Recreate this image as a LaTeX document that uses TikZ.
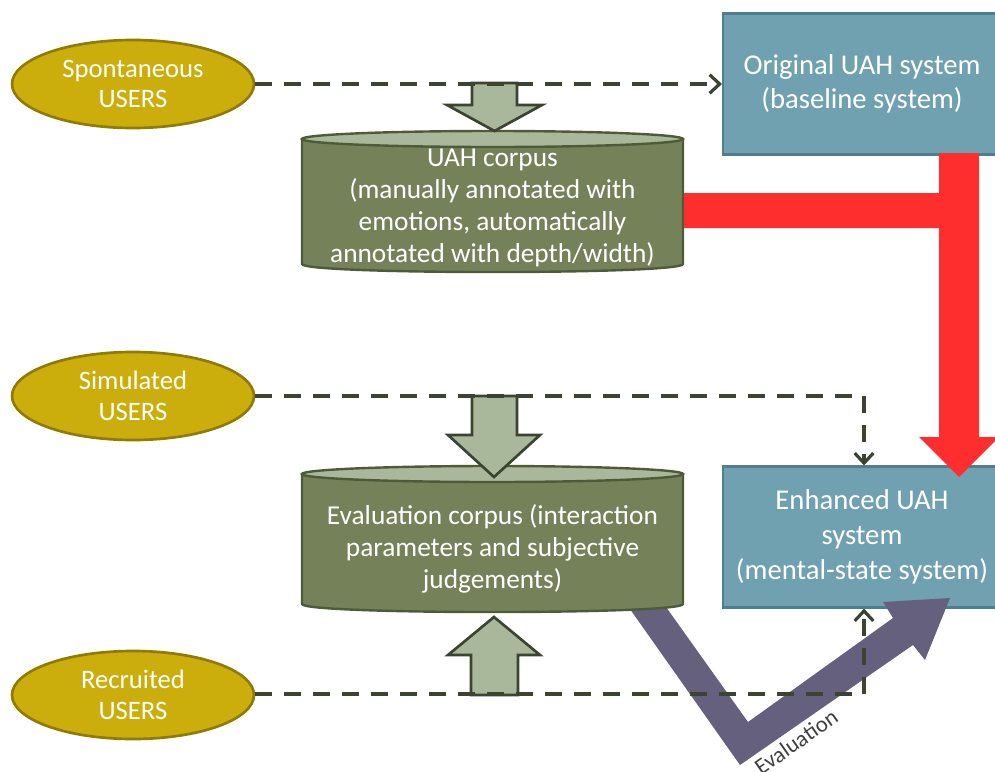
\documentclass[tikz,border=0pt]{standalone}
\usepackage{fontspec}
\setmainfont{Carlito}
\usetikzlibrary{shapes.geometric,arrows.meta}
\definecolor{usergold}{HTML}{CBAE0B}
\definecolor{userbord}{HTML}{8F7B05}
\definecolor{sysfill}{HTML}{6FA1B0}
\definecolor{sysbord}{HTML}{4F7F8F}
\definecolor{cylbody}{HTML}{748159}
\definecolor{cyltop}{HTML}{A9B89A}
\definecolor{cylbord}{HTML}{4E5B38}
\definecolor{blkfill}{HTML}{A9B89B}
\definecolor{blkbord}{HTML}{3A4530}
\definecolor{redarrow}{HTML}{FF2E2E}
\definecolor{purparrow}{HTML}{66607F}
\definecolor{dashcol}{HTML}{3B4430}
\begin{document}
\begin{tikzpicture}[x=0.75pt,y=-0.75pt,
  userell/.style={ellipse, fill=usergold, draw=userbord, line width=2pt,
    minimum width=181.5pt, minimum height=66pt, inner sep=0pt, align=center,
    text=white, font=\fontsize{20}{23}\selectfont},
  sysbox/.style={rectangle, fill=sysfill, draw=sysbord, line width=1.6pt,
    minimum width=208.5pt, minimum height=105.75pt, inner sep=0pt, align=center,
    text=white, font=\fontsize{21.5}{26}\selectfont},
  cyltext/.style={align=center, text=white, inner sep=0pt,
    font=\fontsize{20.5}{24}\selectfont},
  cylshape/.style={fill=cylbody, draw=cylbord, line width=1.8pt},
  cyltopstyle/.style={fill=cyltop, draw=cylbord, line width=1.8pt},
  blockarrow/.style={fill=blkfill, draw=blkbord, line width=2pt, line join=miter},
  dashconn/.style={draw=dashcol, line width=3pt, dash pattern=on 12.75pt off 9pt,
    -{Straight Barb[length=7.5pt,width=14pt,line width=2.4pt]}},
  dashplain/.style={draw=dashcol, line width=3pt, dash pattern=on 12.75pt off 9pt}
]
\useasboundingbox (0,0) rectangle (995,771);
\fill[white] (0,0) rectangle (995,771);

% system boxes
\node[sysbox] (orig) at (862,84) {Original UAH system\\(baseline system)};
\node[sysbox] (enh) at (862,537) {Enhanced UAH\\system\\(mental-state system)};

% purple evaluation arrow
\fill[purparrow] (625,602) -- (661,600) -- (748,722) -- (893,618) -- (883,602)
  -- (950,598) -- (925,660) -- (913,645) -- (740,765) -- cycle;
\node[rotate=35, text=black!75, font=\fontsize{17}{19}\selectfont, inner sep=0pt]
  (evallbl) at (796,742) {Evaluation};

% UAH corpus cylinder
\path[cylshape] (302,139) -- (302,264) .. controls (302,274.7) and (683,274.7) .. (683,264)
  -- (683,139) -- cycle;
\path[cyltopstyle] (492.5,139) ellipse [x radius=142.875pt, y radius=6pt];
\node[cyltext] (corpusA) at (492.5,208) {UAH corpus\\(manually annotated with\\emotions, automatically\\annotated with depth/width)};

% Evaluation corpus cylinder
\path[cylshape] (302,474) -- (302,604) .. controls (302,614.7) and (683,614.7) .. (683,604)
  -- (683,474) -- cycle;
\path[cyltopstyle] (492.5,474) ellipse [x radius=142.875pt, y radius=6pt];
\node[cyltext] (corpusB) at (492.5,549) {Evaluation corpus (interaction\\parameters and subjective\\judgements)};

% red arrow
\fill[redarrow] (684,193) -- (939,193) -- (939,153) -- (979,153) -- (979,437)
  -- (999,437) -- (959,477) -- (919,437) -- (939,437) -- (939,228) -- (684,228) -- cycle;

% block arrows
\path[blockarrow] (472,83) -- (517,83) -- (517,105) -- (542,105) -- (494.5,131)
  -- (447,105) -- (472,105) -- cycle;
\path[blockarrow] (472,396) -- (517,396) -- (517,435) -- (540,435) -- (494,477)
  -- (448,435) -- (472,435) -- cycle;
\path[blockarrow] (471,695) -- (518,695) -- (518,655) -- (540,655) -- (494,617)
  -- (448,655) -- (471,655) -- cycle;

% users
\node[userell] (spont) at (133,84) {Spontaneous\\USERS};
\node[userell] (sim) at (133,396) {Simulated\\USERS};
\node[userell] (recr) at (133,695) {Recruited\\USERS};

% dashed connectors
\draw[dashconn] (spont.east) -- (orig.west |- spont.east);
\coordinate (simturn) at (864,396);
\draw[dashconn] (sim.east) -- (simturn) -- (simturn |- enh.north);
\coordinate (recturn) at (864,694);
\draw[dashconn] (recr.east |- recturn) -- (recturn) -- (recturn |- enh.south);
\end{tikzpicture}
\end{document}
